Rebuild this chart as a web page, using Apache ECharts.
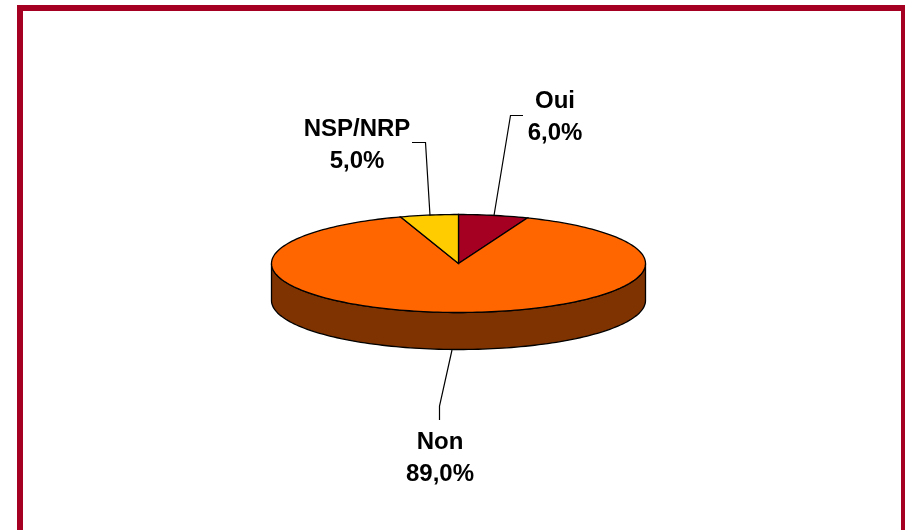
<!DOCTYPE html>
<html>
<head>
<meta charset="utf-8">
<title>Oui / Non / NSP</title>
<style>
  html, body { margin: 0; padding: 0; background: #fff; overflow: hidden; }
  #chart { width: 905px; height: 530px; }
</style>
<script src="https://cdn.jsdelivr.net/npm/echarts@6/dist/echarts.min.js"></script>
</head>
<body>
<div id="chart"></div>
<script>
const categories = ['Oui', 'Non', 'NSP/NRP'];
const values = [6.0, 89.0, 5.0];
const colors = ['#A50021', '#FF6600', '#FFCC00'];
const sideColors = ['#530011', '#7F3300', '#7F6600'];

// page pixels, not data
const depthUnits = 0.755;
const labelLayout = [
  { x: 555, y: 117.5, line: [[494, 215.5], [510.5, 115.5], [523, 115.5]] },
  { x: 440, y: 458, line: [[452, 350], [439.5, 406], [439.5, 420]] },
  { x: 357, y: 145, line: [[430, 215.5], [425.5, 142.5], [412, 142.5]] },
];

function getSlices() {
  const total = values.reduce((a, b) => a + b, 0);
  let acc = 0;
  return values.map(v => {
    const start = acc / total;
    acc += v;
    return [start, acc / total];
  });
}

function rimPoints(api, start, end, drop) {
  const steps = Math.max(2, Math.ceil((end - start) * 240));
  const pts = [];
  for (let i = 0; i <= steps; ++i) {
    const a = (start + (end - start) * i / steps) * 2 * Math.PI;
    pts.push(api.coord([Math.sin(a), Math.cos(a) - drop]));
  }
  return pts;
}

function renderSide(params, api) {
  // only the front half of the rim shows the wall
  const start = Math.max(api.value(0), 0.25);
  const end = Math.min(api.value(1), 0.75);
  if (end <= start) {
    return null;
  }
  const top = rimPoints(api, start, end, 0);
  const bottom = rimPoints(api, start, end, depthUnits).reverse();
  return {
    type: 'polygon',
    shape: { points: top.concat(bottom) },
    style: { fill: sideColors[params.dataIndex], stroke: '#000', lineWidth: 1.3 },
  };
}

function renderTop(params, api) {
  const center = api.coord([0, 0]);
  const pts = [center].concat(rimPoints(api, api.value(0), api.value(1), 0));
  return {
    type: 'polygon',
    shape: { points: pts },
    style: { fill: colors[params.dataIndex], stroke: '#000', lineWidth: 1.3 },
  };
}

function renderLabel(params, api) {
  const i = params.dataIndex;
  const l = labelLayout[i];
  return {
    type: 'group',
    children: [
      {
        type: 'polyline',
        shape: { points: l.line },
        style: { fill: null, stroke: '#000', lineWidth: 1.2 },
      },
      {
        type: 'text',
        x: l.x,
        y: l.y,
        style: {
          text: categories[i] + '\n' + values[i].toFixed(1).replace('.', ',') + '%',
          fontFamily: '"Liberation Sans", Arial, sans-serif',
          fontWeight: 'bold',
          fontSize: 24,
          lineHeight: 32,
          fill: '#000',
          align: 'center',
          verticalAlign: 'middle',
        },
      },
    ],
  };
}

const slices = getSlices();
const chart = echarts.init(document.getElementById('chart'), null, { renderer: 'canvas' });

chart.setOption({
  animation: false,
  backgroundColor: '#fff',
  graphic: [{
    type: 'rect',
    silent: true,
    shape: { x: 20, y: 8, width: 884, height: 540 },
    style: { fill: null, stroke: '#A50021', lineWidth: 6 },
  }],
  grid: { left: 271.5, top: 214.5, width: 374, height: 98 },
  xAxis: { type: 'value', min: -1, max: 1, show: false },
  yAxis: { type: 'value', min: -1, max: 1, show: false },
  series: [
    { type: 'custom', clip: false, silent: true, data: slices, renderItem: renderSide },
    { type: 'custom', clip: false, silent: true, data: slices, renderItem: renderTop },
    { type: 'custom', clip: false, silent: true, data: slices, renderItem: renderLabel },
  ],
});
</script>
</body>
</html>
